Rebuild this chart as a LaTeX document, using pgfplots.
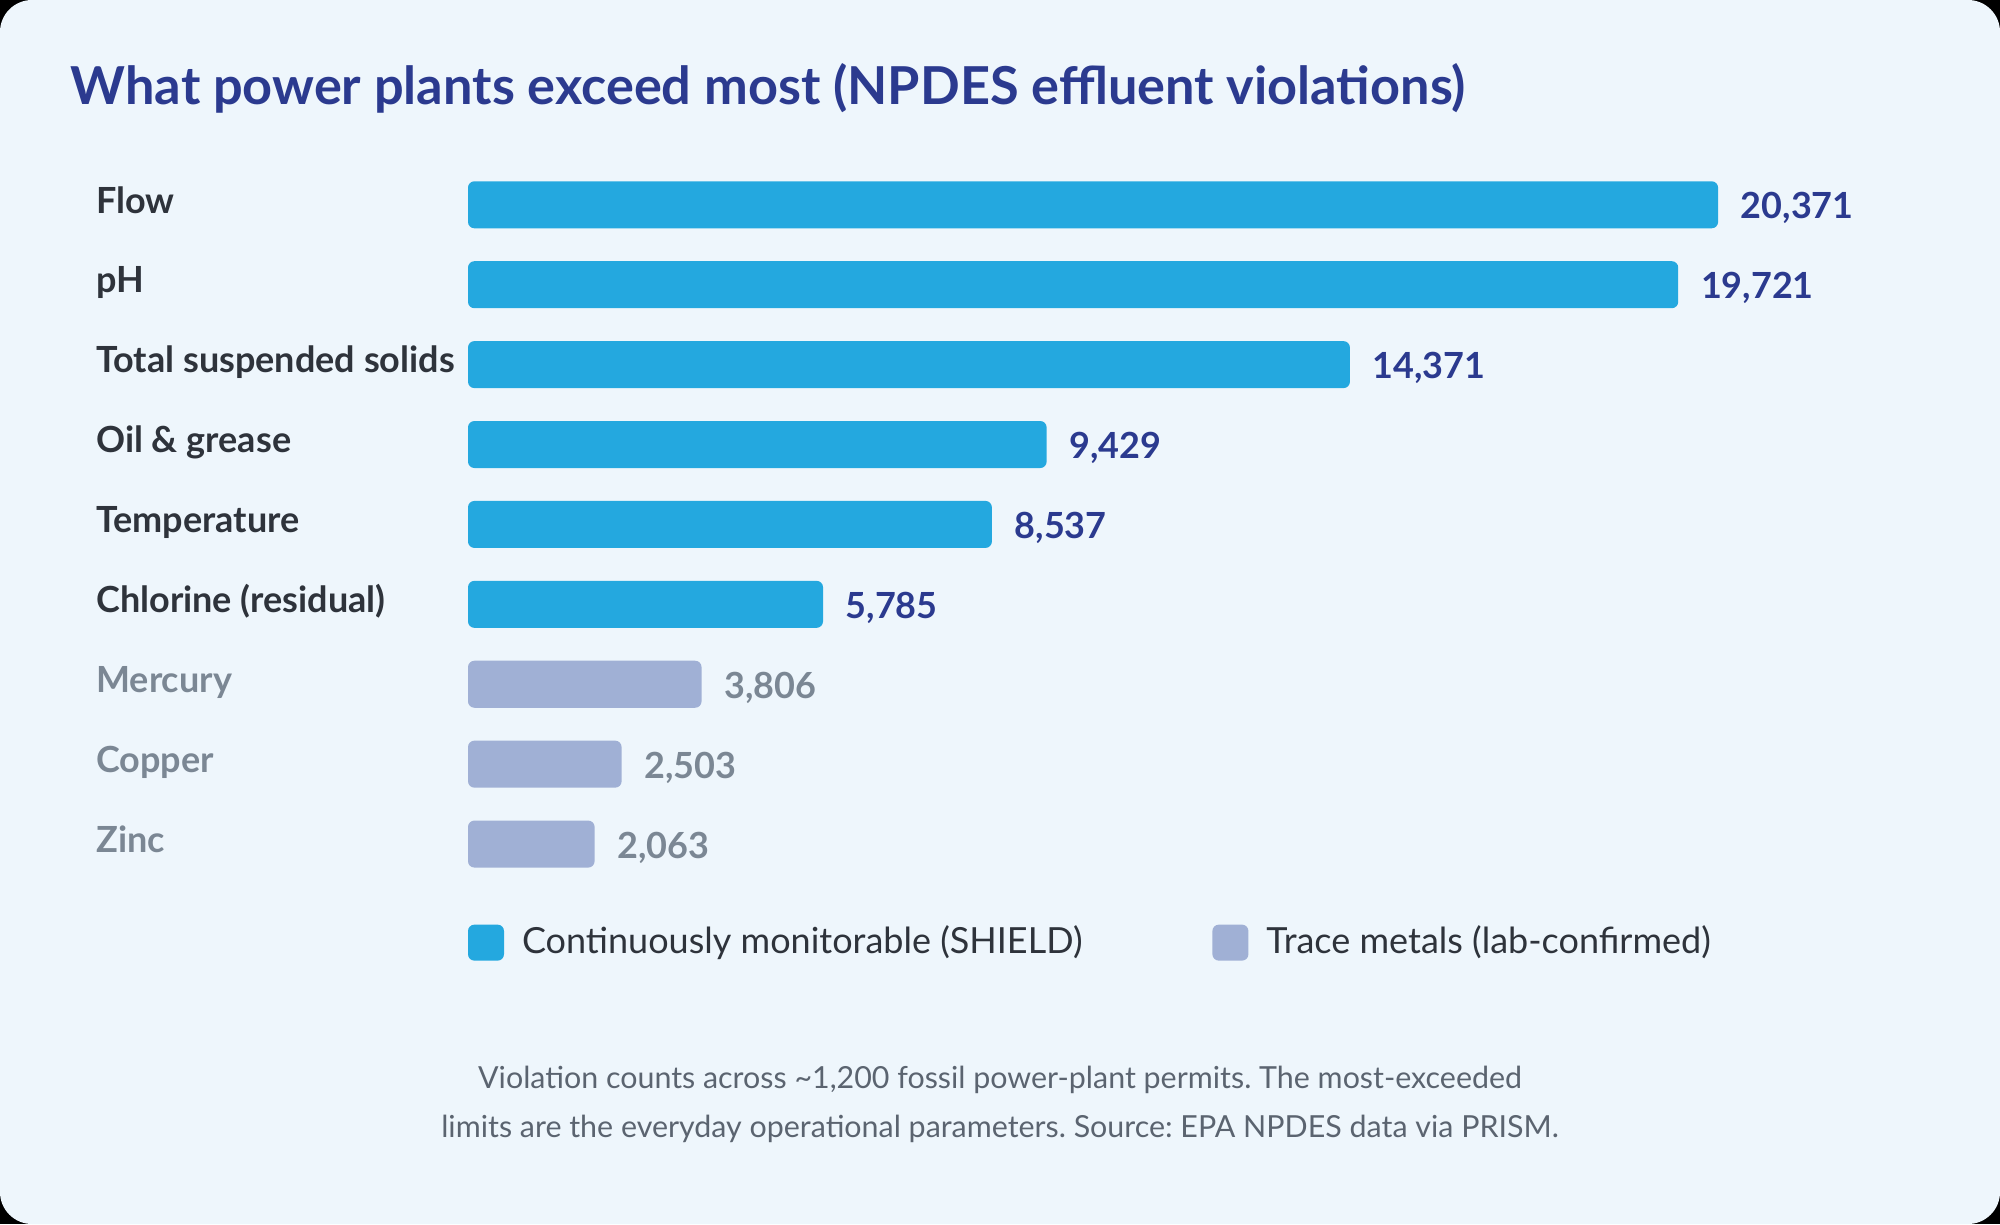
\documentclass[border=0pt]{standalone}
\usepackage{pgfplots}
\usepackage{pgfplotstable}
\usepackage{fontspec}
\pgfplotsset{compat=1.18}
\setmainfont{Lato}
\frenchspacing

\definecolor{cardbg}{HTML}{EEF6FC}
\definecolor{shieldblue}{HTML}{24A8DF}
\definecolor{metallav}{HTML}{A0B0D5}
\definecolor{navy}{HTML}{2B3A8F}
\definecolor{labeldark}{HTML}{2E333B}
\definecolor{labelgray}{HTML}{7B8794}
\definecolor{notegray}{HTML}{5B6470}

% violation counts, continuously monitorable parameters
\pgfplotstableread{
pos count
0 20371
1 19721
2 14371
3 9429
4 8537
5 5785
}\shieldtbl

% violation counts, trace metals
\pgfplotstableread{
pos count
6 3806
7 2503
8 2063
}\metaltbl

\begin{document}
\begin{tikzpicture}[x=1pt,y=1pt]
  % card background
  \fill[black] (0,0) rectangle (500,306);
  \fill[cardbg, rounded corners=8pt] (0,0) rectangle (500,306);

  % title
  \node[anchor=base west, inner sep=0pt, font=\fontsize{13.07}{15}\selectfont\bfseries, text=navy]
    at (17.5,279.9) {What power plants exceed most (NPDES effluent violations)};

  \begin{axis}[
    at={(117pt,85pt)}, anchor=south west,
    scale only axis, width=368.2pt, height=179.8pt,
    xmin=0, xmax=24000,
    ymin=-0.5, ymax=8.5, y dir=reverse,
    enlarge y limits=false,
    axis line style={draw=none},
    tick style={draw=none},
    xtick=\empty,
    ytick={0,...,8},
    yticklabels={Flow, pH, Total suspended solids, Oil \& grease, Temperature,
      Chlorine (residual), \textcolor{labelgray}{Mercury},
      \textcolor{labelgray}{Copper}, \textcolor{labelgray}{Zinc}},
    yticklabel style={anchor=base west, xshift=-88.85pt, yshift=-2.05pt, inner sep=0pt,
      font=\fontsize{9}{11}\selectfont\bfseries, text=labeldark},
    /pgf/number format/assume math mode=true,
    xbar, bar width=11.75pt,
    point meta=x,
    nodes near coords={\pgfmathprintnumber[fixed, precision=0, 1000 sep={,}]{\pgfplotspointmeta}},
    nodes near coords style={anchor=base west, xshift=5.5pt, yshift=-3.5pt, inner sep=0pt,
      font=\fontsize{9}{11}\selectfont\bfseries},
    legend columns=2,
    legend cell align=left,
    legend style={at={(axis description cs:0,-0.0815)}, anchor=west,
      draw=none, fill=none, inner sep=0pt, outer sep=0pt,
      nodes={inner sep=0pt},
      font=\fontsize{9}{10}\selectfont, text=labeldark,
      /tikz/every odd column/.append style={column sep=4.5pt},
      /tikz/every even column/.append style={column sep=32.5pt}},
    legend image code/.code={\fill[rounded corners=1.6pt] (0pt,-4.5pt) rectangle (9pt,4.5pt);},
  ]
    \addplot[fill=shieldblue, draw=none, bar shift=0pt, rounded corners=1.6pt,
      nodes near coords style={text=navy}]
      table[x=count, y=pos] {\shieldtbl};
    \addlegendentry{Continuously monitorable (SHIELD)}
    \addplot[fill=metallav, draw=none, bar shift=0pt, rounded corners=1.6pt,
      nodes near coords style={text=labelgray}]
      table[x=count, y=pos] {\metaltbl};
    \addlegendentry{Trace metals (lab-confirmed)}
  \end{axis}

  % footnote
  \node[anchor=base, inner sep=0pt, font=\fontsize{7.6}{9}\selectfont, text=notegray]
    at (250,34) {Violation counts across \textasciitilde 1,200 fossil power-plant permits. The most-exceeded};
  \node[anchor=base, inner sep=0pt, font=\fontsize{7.6}{9}\selectfont, text=notegray]
    at (250,21.75) {limits are the everyday operational parameters. Source: EPA NPDES data via PRISM.};
\end{tikzpicture}
\end{document}
